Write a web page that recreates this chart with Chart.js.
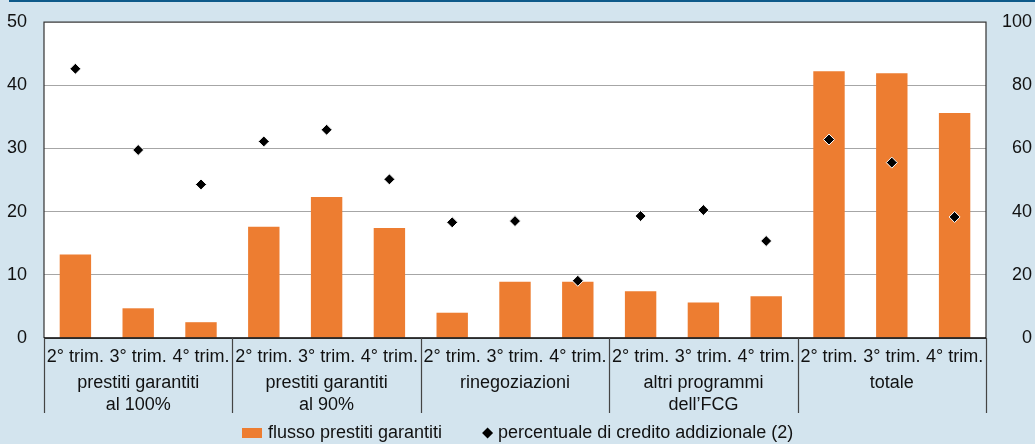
<!DOCTYPE html>
<html>
<head>
<meta charset="utf-8">
<script src="https://cdn.jsdelivr.net/npm/chart.js@4.4.1/dist/chart.umd.min.js"></script>
<style>
  html, body { margin: 0; padding: 0; background: #d3e4ee; }
  #grafico { display: block; }
</style>
</head>
<body>
<canvas id="grafico" width="1035" height="444"></canvas>
<script>
// --- Dati ---
const trimestri = ['2° trim.', '3° trim.', '4° trim.', '2° trim.', '3° trim.', '4° trim.',
  '2° trim.', '3° trim.', '4° trim.', '2° trim.', '3° trim.', '4° trim.',
  '2° trim.', '3° trim.', '4° trim.'];
const gruppi = [['prestiti garantiti', 'al 100%'], ['prestiti garantiti', 'al 90%'],
  'rinegoziazioni', ['altri programmi', 'dell’FCG'], 'totale'];
const flussoPrestiti = [13.2, 4.7, 2.5, 17.6, 22.3, 17.4, 4.0, 8.9, 8.9, 7.4, 5.6, 6.6, 42.2, 41.9, 35.6];
const creditoAddizionale = [85.2, 59.5, 48.6, 62.2, 65.9, 50.2, 36.6, 37.0, 18.1, 38.6, 40.5, 30.7, 62.8, 55.5, 38.3];

const ARANCIO = '#ed7d31';
const TESTO = '#111';
const FAMIGLIA = '"Liberation Sans", Arial, sans-serif';
const FONT = { family: FAMIGLIA, size: 18 };

// sfondo bianco, bordi, separatori dei gruppi e legenda
const cornice = {
  id: 'cornice',
  beforeDraw(chart) {
    const { ctx, chartArea: a } = chart;
    ctx.save();
    ctx.fillStyle = '#0e5a8a';
    ctx.fillRect(9, 0, chart.width - 9, 2);
    ctx.fillStyle = '#fff';
    ctx.fillRect(a.left, a.top, a.right - a.left, a.bottom - a.top);
    ctx.restore();
  },
  afterDraw(chart) {
    const { ctx, chartArea: a } = chart;
    const x = chart.scales.x;
    const fondo = chart.scales.x2.bottom;
    ctx.save();
    ctx.strokeStyle = '#333';
    ctx.lineWidth = 1.2;
    ctx.beginPath();
    ctx.moveTo(a.left, a.bottom); ctx.lineTo(a.left, a.top);
    ctx.lineTo(a.right, a.top); ctx.lineTo(a.right, a.bottom);
    ctx.stroke();
    ctx.strokeStyle = '#000';
    ctx.lineWidth = 1.5;
    ctx.beginPath();
    ctx.moveTo(a.left, a.bottom); ctx.lineTo(a.right, a.bottom);
    ctx.stroke();
    ctx.strokeStyle = '#444';
    ctx.lineWidth = 1.2;
    for (let i = 0; i <= trimestri.length; i += 3) {
      const px = Math.round(x.getPixelForValue(i - 0.5)) + 0.5;
      ctx.beginPath();
      ctx.moveTo(px, a.bottom);
      ctx.lineTo(px, fondo);
      ctx.stroke();
    }

    // legenda
    const [barre, punti] = chart.data.datasets;
    ctx.font = FONT.size + 'px ' + FAMIGLIA;
    ctx.textBaseline = 'middle';
    ctx.fillStyle = TESTO;
    const w1 = ctx.measureText(barre.label).width;
    const w2 = ctx.measureText(punti.label).width;
    const totale = 20 + 6 + w1 + 40 + 11 + 5 + w2;
    let cx = Math.round((chart.width - totale) / 2);
    const cy = fondo + 20;
    ctx.fillStyle = barre.backgroundColor;
    ctx.fillRect(cx, cy - 5, 20, 10);
    cx += 26;
    ctx.fillStyle = TESTO;
    ctx.fillText(barre.label, cx, cy);
    cx += w1 + 40 + 5.5;
    ctx.fillStyle = punti.pointBackgroundColor;
    ctx.beginPath();
    ctx.moveTo(cx, cy - 5.5); ctx.lineTo(cx + 5.5, cy);
    ctx.lineTo(cx, cy + 5.5); ctx.lineTo(cx - 5.5, cy);
    ctx.closePath(); ctx.fill();
    cx += 10.5;
    ctx.fillStyle = TESTO;
    ctx.fillText(punti.label, cx, cy);
    ctx.restore();
  }
};

function senzaMargini(s, larghezza) {
  s.width = larghezza;
  s.paddingTop = 0;
  s.paddingBottom = 0;
}

const ctx = document.getElementById('grafico').getContext('2d');
const grafico = new Chart(ctx, {
  data: {
    labels: trimestri,
    datasets: [
      {
        type: 'bar',
        label: 'flusso prestiti garantiti',
        data: flussoPrestiti,
        backgroundColor: ARANCIO,
        barPercentage: 0.5,
        categoryPercentage: 1,
        yAxisID: 'y',
        order: 2
      },
      {
        type: 'line',
        label: 'percentuale di credito addizionale (2)',
        data: creditoAddizionale,
        showLine: false,
        pointStyle: 'rectRot',
        pointRadius: 5.5,
        pointBackgroundColor: '#000',
        pointBorderColor: '#fff',
        pointBorderWidth: 1,
        yAxisID: 'y2',
        order: 1
      }
    ]
  },
  options: {
    responsive: false,
    devicePixelRatio: 1,
    animation: false,
    layout: { padding: { top: 22, right: 3, left: 0, bottom: 31 } },
    scales: {
      x: {
        grid: { display: false, drawTicks: false },
        border: { display: false },
        ticks: { color: TESTO, font: FONT, padding: 8, maxRotation: 0, autoSkip: false },
        afterFit(s) { s.height = 30; s.paddingLeft = 0; s.paddingRight = 0; }
      },
      x2: {
        type: 'category',
        position: 'bottom',
        labels: gruppi,
        offset: true,
        grid: { display: false, drawTicks: false },
        border: { display: false },
        ticks: { color: TESTO, font: { ...FONT, lineHeight: 1.22 }, padding: 4, maxRotation: 0, autoSkip: false },
        afterFit(s) { s.height = 45; s.paddingLeft = 0; s.paddingRight = 0; }
      },
      y: {
        position: 'left',
        min: 0, max: 50,
        grid: { color: '#a6a6a6', drawTicks: false },
        border: { display: false },
        ticks: { stepSize: 10, color: TESTO, font: FONT, padding: 17 },
        afterFit(s) { senzaMargini(s, 44); }
      },
      y2: {
        position: 'right',
        min: 0, max: 100,
        grid: { drawOnChartArea: false, drawTicks: false },
        border: { display: false },
        ticks: { stepSize: 20, color: TESTO, font: FONT, padding: 17, crossAlign: 'far' },
        afterFit(s) { senzaMargini(s, 46); }
      }
    },
    plugins: {
      tooltip: { enabled: false },
      legend: { display: false }
    }
  },
  plugins: [cornice]
});
</script>
</body>
</html>
